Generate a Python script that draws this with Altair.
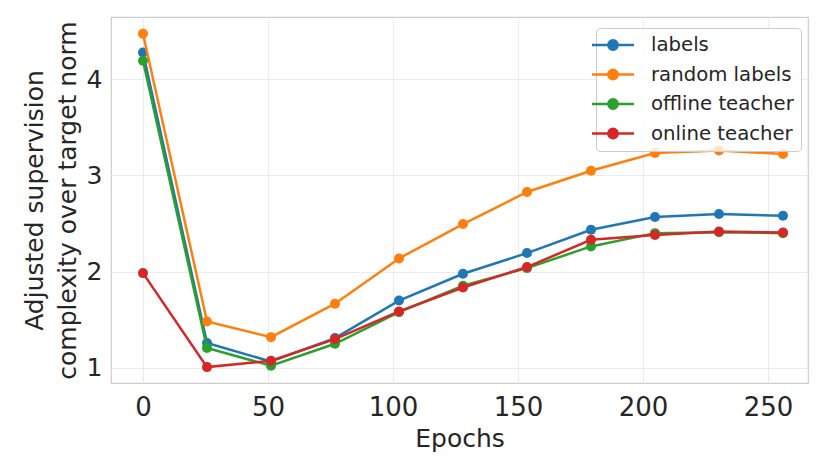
import altair as alt
import pandas as pd

epochs = [0, 25.6, 51.2, 76.8, 102.4, 128, 153.6, 179.2, 204.8, 230.4, 256]
labels_vals = [4.276, 1.259, 1.067, 1.31, 1.70, 1.978, 2.193, 2.435, 2.567, 2.598, 2.58]
random_vals = [4.47, 1.483, 1.32, 1.667, 2.137, 2.494, 2.827, 3.048, 3.232, 3.259, 3.221]
offline_vals = [4.19, 1.207, 1.023, 1.251, 1.58, 1.854, 2.037, 2.262, 2.40, 2.41, 2.40]
online_vals = [1.985, 1.009, 1.075, 1.30, 1.587, 1.836, 2.048, 2.331, 2.38, 2.417, 2.407]
series = ["labels", "random labels", "offline teacher", "online teacher"]
colors = ["#1f77b4", "#ff7f0e", "#2ca02c", "#d62728"]
x_ticks = [0, 50, 100, 150, 200, 250]
y_ticks = [1, 2, 3, 4]

rows = []
for name, vals in zip(series, [labels_vals, random_vals, offline_vals, online_vals]):
    for i, (e, v) in enumerate(zip(epochs, vals)):
        rows.append({"series": name, "epoch": e, "value": v, "idx": i})
df = pd.DataFrame(rows)

FONT = "DejaVu Sans"
TXT = "#262626"

legend = alt.Legend(
    title=None,
    orient="none",
    legendX=485,
    legendY=11,
    symbolType="M-2.47,0H2.47M-0.55,0A0.55,0.55,0,1,1,0.55,0A0.55,0.55,0,1,1,-0.55,0",
    symbolSize=289,
    symbolStrokeWidth=2.5,
    labelFontSize=19.7,
    labelFont=FONT,
    labelColor=TXT,
    labelOffset=28,
    rowPadding=9.5,
    padding=7,
    fillColor="rgba(255,255,255,0.8)",
    strokeColor="#cccccc",
    cornerRadius=4,
)

xenc = alt.X("epoch:Q", scale=alt.Scale(domain=[-12.8, 266], nice=False, zero=False),
             axis=alt.Axis(values=x_ticks, title="Epochs", format="d"))
yenc = alt.Y("value:Q", scale=alt.Scale(domain=[0.844, 4.644], nice=False, zero=False),
             axis=alt.Axis(values=y_ticks, title=["Adjusted supervision", "complexity over target norm"]))
cenc = alt.Color("series:N", scale=alt.Scale(domain=series, range=colors), legend=legend)

layers = []
for name in series:
    base = alt.Chart(df).transform_filter(alt.datum.series == name)
    layers.append(base.mark_line(strokeWidth=2.5).encode(x=xenc, y=yenc, color=cenc, order="idx:Q"))
    layers.append(base.mark_circle(size=100, opacity=1).encode(x=xenc, y=yenc, color=cenc))

chart = alt.layer(*layers).properties(
    width=697, height=366,
    autosize=alt.AutoSizeParams(type="none"),
    padding={"left": 103, "top": 9, "right": 10, "bottom": 84},
).configure_view(
    stroke="#cccccc", strokeWidth=1.2
).configure_axis(
    domain=False, ticks=False, grid=True, gridColor="#ebebeb", gridWidth=1,
    labelFont=FONT, labelFontSize=25, labelColor=TXT, labelPadding=9,
    titleFont=FONT, titleFontSize=25, titleFontWeight="normal", titleColor=TXT,
).configure_axisY(
    titlePadding=6, titleLineHeight=33,
).configure_axisX(
    labelFontSize=26, labelPadding=11, titlePadding=6,
)

chart.save("out.html", embed_options={"renderer": "svg", "actions": False})
